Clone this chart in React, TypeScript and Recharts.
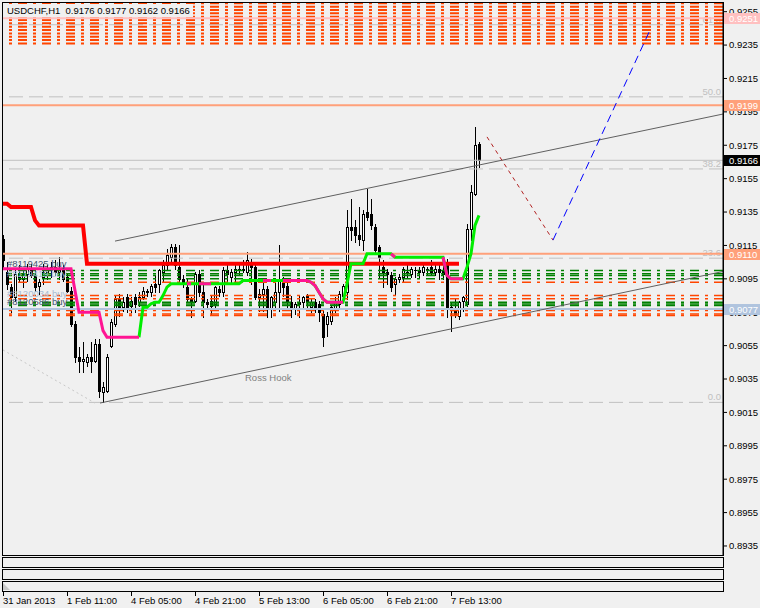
import React from "react";
import { Bar, ComposedChart, Line, ReferenceLine, XAxis, YAxis } from "recharts";

const FONT = "'Liberation Sans', Arial, sans-serif";
const BG = "#F0F0F0";

// USDCHF H1, bar 0 = 31 Jan 2013 (one bar per hour)
const opens = [
  0.9119, 0.9099, 0.909, 0.9084, 0.9098, 0.9095, 0.9098, 0.9101, 0.9097, 0.9091,
  0.9096, 0.9099, 0.91, 0.9102, 0.9099, 0.91, 0.9096, 0.9088, 0.9068, 0.9048,
  0.9046, 0.9045, 0.9048, 0.9046, 0.9056, 0.9027, 0.9028, 0.9055, 0.9068, 0.9083,
  0.9078, 0.9084, 0.9079, 0.9084, 0.9081, 0.9084, 0.9088, 0.9087, 0.9092, 0.9092,
  0.9099, 0.9103, 0.9108, 0.9114, 0.9102, 0.9095, 0.909, 0.9083, 0.9082, 0.9098,
  0.9087, 0.9081, 0.9082, 0.908, 0.9089, 0.9087, 0.91, 0.9096, 0.9099, 0.9101,
  0.91, 0.9099, 0.9105, 0.9102, 0.9084, 0.9086, 0.9089, 0.9077, 0.9081, 0.9087,
  0.9094, 0.9091, 0.9081, 0.9077, 0.9081, 0.9081, 0.9085, 0.9078, 0.9081, 0.908,
  0.9074, 0.9068, 0.907, 0.9077, 0.908, 0.9085, 0.9087, 0.9126, 0.9126, 0.9121,
  0.9118, 0.9135, 0.9134, 0.9126, 0.9114, 0.9102, 0.9099, 0.9097, 0.9092, 0.9095,
  0.9096, 0.9099, 0.9098, 0.91, 0.91, 0.9099, 0.9101, 0.9102, 0.9099, 0.9101,
  0.91, 0.9103, 0.9077, 0.9077, 0.9073, 0.9082, 0.908, 0.9125, 0.9146, 0.9176,
];
const highs = [
  0.9121, 0.9105, 0.9092, 0.9101, 0.9103, 0.91, 0.9104, 0.9104, 0.9101, 0.9095,
  0.9104, 0.9103, 0.9105, 0.9106, 0.9108, 0.9103, 0.9098, 0.909, 0.907, 0.9054,
  0.9057, 0.905, 0.9057, 0.9059, 0.9059, 0.9033, 0.905, 0.9071, 0.9085, 0.9086,
  0.9084, 0.9086, 0.9084, 0.9086, 0.9087, 0.909, 0.9089, 0.9092, 0.9097, 0.9101,
  0.9106, 0.9113, 0.9116, 0.9116, 0.9115, 0.9097, 0.9095, 0.9084, 0.9099, 0.91,
  0.9092, 0.9083, 0.9085, 0.9091, 0.9091, 0.9102, 0.9104, 0.9101, 0.9104, 0.9104,
  0.9106, 0.9111, 0.9107, 0.9105, 0.9089, 0.9094, 0.9091, 0.9085, 0.9094, 0.9115,
  0.9096, 0.9094, 0.9085, 0.9081, 0.9085, 0.9085, 0.9086, 0.9083, 0.9083, 0.9082,
  0.9076, 0.9075, 0.9079, 0.9084, 0.9088, 0.9092, 0.9136, 0.9143, 0.913, 0.9138,
  0.9136, 0.9149, 0.9143, 0.9128, 0.9115, 0.9106, 0.9101, 0.9099, 0.9096, 0.9098,
  0.9102, 0.9104, 0.9102, 0.9102, 0.9102, 0.9104, 0.9102, 0.9106, 0.9105, 0.9103,
  0.9107, 0.9107, 0.9081, 0.9083, 0.9082, 0.9085, 0.9128, 0.9151, 0.9186, 0.9177,
];
const lows = [
  0.9101, 0.9089, 0.9075, 0.9082, 0.9093, 0.909, 0.9094, 0.9096, 0.9088, 0.9086,
  0.9092, 0.9095, 0.9096, 0.9097, 0.9095, 0.9094, 0.9087, 0.9067, 0.9045, 0.9039,
  0.9039, 0.9043, 0.9039, 0.9045, 0.9024, 0.9021, 0.9027, 0.9054, 0.9067, 0.9073,
  0.9076, 0.9075, 0.9075, 0.9075, 0.9079, 0.9083, 0.9085, 0.9085, 0.9087, 0.9087,
  0.9093, 0.9101, 0.9105, 0.9101, 0.9092, 0.909, 0.9081, 0.9072, 0.9081, 0.9085,
  0.9072, 0.9077, 0.9074, 0.9078, 0.9085, 0.9085, 0.9094, 0.9093, 0.9094, 0.9098,
  0.9099, 0.9097, 0.9092, 0.9083, 0.9076, 0.9076, 0.9072, 0.9072, 0.9077, 0.9076,
  0.9085, 0.9077, 0.9072, 0.9074, 0.9072, 0.9077, 0.9077, 0.9075, 0.9075, 0.907,
  0.9055, 0.9061, 0.9068, 0.9075, 0.9078, 0.9083, 0.9083, 0.9118, 0.9117, 0.9115,
  0.9112, 0.913, 0.9125, 0.911, 0.9096, 0.909, 0.9092, 0.9088, 0.9086, 0.9093,
  0.9094, 0.9096, 0.9096, 0.9096, 0.9096, 0.9097, 0.9098, 0.9098, 0.9097, 0.9095,
  0.9095, 0.9072, 0.9064, 0.9072, 0.9071, 0.9076, 0.9079, 0.9118, 0.9145, 0.9162,
];
const closes = [
  0.9106, 0.9092, 0.9084, 0.9098, 0.9095, 0.9098, 0.9101, 0.9097, 0.909, 0.9093,
  0.9099, 0.91, 0.9102, 0.9099, 0.9101, 0.9095, 0.9088, 0.9068, 0.9048, 0.9046,
  0.9047, 0.9048, 0.9046, 0.9056, 0.9028, 0.903, 0.9048, 0.9069, 0.9083, 0.9078,
  0.9081, 0.9078, 0.9082, 0.908, 0.9084, 0.9088, 0.9087, 0.9091, 0.909, 0.91,
  0.9103, 0.9109, 0.9114, 0.9103, 0.9095, 0.9093, 0.9083, 0.9082, 0.9098, 0.9087,
  0.9081, 0.908, 0.9079, 0.909, 0.9087, 0.91, 0.9098, 0.9099, 0.9101, 0.91,
  0.9101, 0.9106, 0.9102, 0.9084, 0.9086, 0.9089, 0.9077, 0.9084, 0.9087, 0.9094,
  0.909, 0.9082, 0.9077, 0.908, 0.908, 0.9084, 0.9082, 0.9081, 0.9078, 0.9075,
  0.906, 0.9073, 0.9078, 0.9082, 0.9086, 0.9091, 0.9126, 0.9124, 0.9121, 0.9119,
  0.9134, 0.9132, 0.9127, 0.9112, 0.9108, 0.9099, 0.9098, 0.909, 0.9095, 0.9096,
  0.9101, 0.9099, 0.9101, 0.91, 0.9099, 0.9102, 0.9101, 0.9099, 0.9101, 0.9099,
  0.9098, 0.9077, 0.9078, 0.9074, 0.9081, 0.9084, 0.9125, 0.9147, 0.9175, 0.9166,
];

// red stop line (bars 0..114)
const redStop = [
  0.914, 0.914, 0.9138, 0.9138, 0.9138, 0.9138, 0.9138, 0.9138, 0.913, 0.9127,
  0.9127, 0.9127, 0.9127, 0.9127, 0.9127, 0.9127, 0.9127, 0.9127, 0.9127, 0.9127,
  0.9127, 0.9104, 0.9104, 0.9104, 0.9104, 0.9104, 0.9104, 0.9104, 0.9104, 0.9104,
  0.9104, 0.9104, 0.9104, 0.9104, 0.9104, 0.9104, 0.9104, 0.9104, 0.9104, 0.9104,
  0.9104, 0.9104, 0.9104, 0.9104, 0.9104, 0.9104, 0.9104, 0.9104, 0.9104, 0.9104,
  0.9104, 0.9104, 0.9104, 0.9104, 0.9104, 0.9104, 0.9104, 0.9104, 0.9104, 0.9104,
  0.9104, 0.9104, 0.9104, 0.9104, 0.9104, 0.9104, 0.9104, 0.9104, 0.9104, 0.9104,
  0.9104, 0.9104, 0.9104, 0.9104, 0.9104, 0.9104, 0.9104, 0.9104, 0.9104, 0.9104,
  0.9104, 0.9104, 0.9104, 0.9104, 0.9104, 0.9104, 0.9104, 0.9104, 0.9104, 0.9104,
  0.9104, 0.9104, 0.9104, 0.9104, 0.9104, 0.9104, 0.9104, 0.9104, 0.9104, 0.9104,
  0.9104, 0.9104, 0.9104, 0.9104, 0.9104, 0.9104, 0.9104, 0.9104, 0.9104, 0.9104,
  0.9104, 0.9104, 0.9104, 0.9104, 0.9104,
];

// trailing trend line, pink while down, green while up
const trendVals = [
  0.9101, 0.9101, 0.9101, 0.9101, 0.9101, 0.9101, 0.9101, 0.9101, 0.9101, 0.9101,
  0.9101, 0.9101, 0.9101, 0.9101, 0.9101, 0.9101, 0.9101, 0.9101, 0.9088, 0.9075,
  0.9075, 0.9075, 0.9075, 0.9075, 0.9075, 0.9064, 0.906, 0.906, 0.906, 0.906,
  0.906, 0.906, 0.906, 0.906, 0.906, 0.9078, 0.9078, 0.908, 0.9081, 0.9081,
  0.9085, 0.909, 0.9092, 0.9092, 0.9092, 0.9092, 0.9092, 0.9092, 0.9092, 0.9092,
  0.9092, 0.9092, 0.9092, 0.9092, 0.9092, 0.9092, 0.9092, 0.9092, 0.9092, 0.9092,
  0.9094, 0.9094, 0.9094, 0.9094, 0.9094, 0.9094, 0.9094, 0.9094, 0.9094, 0.9094,
  0.9094, 0.9094, 0.9094, 0.9094, 0.9094, 0.9094, 0.9094, 0.9093, 0.9091, 0.9087,
  0.9083, 0.9081, 0.9081, 0.9081, 0.9081, 0.9081, 0.9092, 0.9104, 0.9104, 0.9104,
  0.9104, 0.911, 0.911, 0.911, 0.911, 0.911, 0.911, 0.911, 0.9108, 0.9108,
  0.9108, 0.9108, 0.9108, 0.9108, 0.9108, 0.9108, 0.9108, 0.9108, 0.9108, 0.9108,
  0.9108, 0.9097, 0.9095, 0.9095, 0.9095, 0.9095, 0.9102, 0.911, 0.9127, 0.9133,
];
const pinkRanges = [[0, 34], [46, 47], [49, 52], [65, 67], [70, 85], [97, 98], [110, 115]];
const greenFrom = 34;

// pending order levels
const topOrangeLevels = [0.9236, 0.9238, 0.924, 0.9242, 0.9244, 0.9246, 0.9248, 0.925, 0.9252, 0.9254, 0.9256, 0.9258, 0.926];
const midGreenLevels = [0.91, 0.9098, 0.9097, 0.9095, 0.9081, 0.908, 0.9079];
const midOrangeLevels = [0.9093, 0.9085, 0.9083, 0.9076, 0.9074, 0.9073];

// fibonacci retracement anchors
const fibLow = 0.9021;
const fibHigh = 0.9387;
const fibRatios = [61.8, 50.0, 38.2, 23.6, 0.0];

// price tags on the right scale
const tagPrices = [0.9251, 0.9199, 0.911, 0.9077, 0.9166];

const orderTexts = ["#8119425 buy", "#8119419 buy", "#8120034 buy", "#8120586 buy"];
const orderTextPrices = [0.91042, 0.90982, 0.90868, 0.90817];

const timeTicks = [0, 16, 32, 48, 64, 80, 96, 112];
const timeLabels = ["31 Jan 2013", "1 Feb 11:00", "4 Feb 05:00", "4 Feb 21:00", "5 Feb 13:00", "6 Feb 05:00", "6 Feb 21:00", "7 Feb 13:00"];
const priceTicks = [0.9255, 0.9235, 0.9215, 0.9195, 0.9175, 0.9155, 0.9135, 0.9115, 0.9095, 0.9075, 0.9055, 0.9035, 0.9015, 0.8995, 0.8975, 0.8955, 0.8935];

const Y_DOMAIN = [0.89296, 0.92602];
const MARGIN = { top: 3, right: 0, bottom: 0, left: 3 };

const rows = opens.map((o, i) => ({
  i,
  o,
  h: highs[i],
  l: lows[i],
  c: closes[i],
  range: [lows[i], highs[i]],
  red: i < redStop.length ? redStop[i] : null,
  green: i >= greenFrom ? trendVals[i] : null,
  pink: pinkRanges.some(([a, b]) => i >= a && i <= b) ? trendVals[i] : null,
}));

function Candle(props: any) {
  const { x, y, width, height, payload } = props;
  if (!payload || width == null) return null;
  const { o, h, l, c } = payload;
  const top = Math.min(y, y + height);
  const span = Math.abs(height);
  const k = h > l ? span / (h - l) : 0;
  const py = (p: number) => top + (h - p) * k;
  const cx = Math.round(x + width / 2);
  const bTop = Math.round(py(Math.max(o, c)));
  const bBot = Math.round(py(Math.min(o, c)));
  return (
    <g>
      <line x1={cx + 0.5} x2={cx + 0.5} y1={Math.round(top)} y2={Math.round(top + span) + 1} stroke="#000" strokeWidth={1} />
      {bBot - bTop < 1 ? (
        <line x1={cx - 1} x2={cx + 2} y1={bTop + 0.5} y2={bTop + 0.5} stroke="#000" strokeWidth={1} />
      ) : (
        <rect x={cx - 0.5} y={bTop + 0.5} width={2} height={bBot - bTop} fill={c >= o ? "#fff" : "#000"} stroke="#000" strokeWidth={1} />
      )}
    </g>
  );
}

function TimeTick(props: any) {
  const { x, payload } = props;
  const label = timeLabels[timeTicks.indexOf(payload.value)];
  const px = Math.round(x);
  return (
    <g>
      <line x1={px + 0.5} x2={px + 0.5} y1={592} y2={596} stroke="#000" />
      <text x={px} y={604} fontSize={9.5} fontFamily={FONT} fill="#000">
        {label}
      </text>
    </g>
  );
}

const priceTag = (value: string, bg: string) => (p: any) => {
  const vb = p.viewBox;
  const x = vb.x + vb.width + 1;
  const y = Math.round(vb.y);
  return (
    <g>
      <rect x={x} y={y - 5} width={36} height={11} fill={bg} />
      <text x={x + 5} y={y + 4} fontSize={9.5} fontFamily={FONT} fill="#fff">
        {value}
      </text>
    </g>
  );
};

const fibTag = (value: string) => (p: any) => {
  const vb = p.viewBox;
  return (
    <text x={vb.x + vb.width - 2} y={vb.y - 2} textAnchor="end" fontSize={9.5} fontFamily={FONT} fill="#C0C0C0">
      {value}
    </text>
  );
};

const leftText = (value: string, color: string) => (p: any) => {
  const vb = p.viewBox;
  return (
    <text x={vb.x} y={vb.y + 4} fontSize={9.5} fontFamily={FONT} fill={color}>
      {value}
    </text>
  );
};

const DASHDOT = "9 6 3 6";
const tagColors = ["#FFC0C0", "#FFA07A", "#FFA07A", "#B0C4DE", "#000000"];

export default function App() {
  return (
    <div style={{ position: "relative", width: 760, height: 608, background: BG, fontFamily: FONT }}>
      <style>{"body{margin:0;background:#F0F0F0}"}</style>
      <ComposedChart width={760} height={608} data={rows} margin={MARGIN}>
        <XAxis
          dataKey="i"
          type="number"
          domain={[0, 180]}
          allowDataOverflow
          ticks={timeTicks}
          interval={0}
          height={53}
          axisLine={false}
          tickLine={false}
          tick={<TimeTick />}
        />
        <YAxis
          orientation="right"
          type="number"
          domain={Y_DOMAIN}
          allowDataOverflow
          ticks={priceTicks}
          interval={0}
          width={37}
          tickSize={4}
          tickMargin={2}
          axisLine={{ stroke: "#000" }}
          tickLine={{ stroke: "#000" }}
          tick={{ fontSize: 9.5, fill: "#000", fontFamily: FONT }}
          tickFormatter={(v: number) => v.toFixed(4)}
        />

        {fibRatios.map((r) => (
          <ReferenceLine
            key={"fib" + r}
            y={fibLow + ((fibHigh - fibLow) * r) / 100}
            stroke="#C0C0C0"
            strokeDasharray="14 6"
            label={fibTag(r.toFixed(1))}
          />
        ))}

        <ReferenceLine y={0.9166} stroke="#C0C0C0" />

        {topOrangeLevels.map((p) => (
          <ReferenceLine key={"to" + p} y={p} stroke="#FF4500" strokeWidth={2} strokeDasharray={DASHDOT} />
        ))}
        {midGreenLevels.map((p) => (
          <ReferenceLine key={"mg" + p} y={p} stroke="#008000" strokeWidth={1.5} strokeDasharray={DASHDOT} />
        ))}
        {midOrangeLevels.map((p) => (
          <ReferenceLine key={"mo" + p} y={p} stroke="#FF4500" strokeWidth={1.5} strokeDasharray={DASHDOT} />
        ))}

        {tagPrices.slice(0, 4).map((p, k) => (
          <ReferenceLine key={"tl" + p} y={p} stroke={tagColors[k]} strokeWidth={2} />
        ))}

        <ReferenceLine segment={[{ x: 0, y: 0.90524 }, { x: 23, y: 0.90206 }]} stroke="#C8C8C8" strokeDasharray="2 3" />
        <ReferenceLine segment={[{ x: 24.25, y: 0.90206 }, { x: 180, y: 0.90994 }]} stroke="#606060" />
        <ReferenceLine segment={[{ x: 28, y: 0.91176 }, { x: 180, y: 0.91937 }]} stroke="#606060" />

        <ReferenceLine segment={[{ x: 121, y: 0.918 }, { x: 137.5, y: 0.91182 }]} stroke="#B22222" strokeDasharray="4 4" />
        <ReferenceLine segment={[{ x: 137.5, y: 0.91182 }, { x: 161.75, y: 0.9244 }]} stroke="#0000FF" strokeDasharray="8 5" />

        <Bar dataKey="range" barSize={3} shape={<Candle />} isAnimationActive={false} />
        <Line dataKey="red" stroke="#FF0000" strokeWidth={4} dot={false} isAnimationActive={false} connectNulls={false} />
        <Line dataKey="green" stroke="#00EE00" strokeWidth={3} dot={false} isAnimationActive={false} connectNulls={false} />
        <Line dataKey="pink" stroke="#FF1493" strokeWidth={3} dot={false} isAnimationActive={false} connectNulls={false} />
      </ComposedChart>

      {/* texts and price tags sit above everything else, so they go in a layer on top */}
      <div style={{ position: "absolute", left: 0, top: 0, pointerEvents: "none" }}>
        <ComposedChart width={760} height={608} data={rows} margin={MARGIN}>
          <XAxis dataKey="i" type="number" domain={[0, 180]} allowDataOverflow height={53} tick={false} axisLine={false} tickLine={false} />
          <YAxis orientation="right" type="number" domain={Y_DOMAIN} allowDataOverflow width={37} tick={false} axisLine={false} tickLine={false} />
          {orderTexts.map((t, k) => (
            <ReferenceLine
              key={t}
              segment={[{ x: 1, y: orderTextPrices[k] }, { x: 2, y: orderTextPrices[k] }]}
              stroke="none"
              label={leftText(t, k % 3 === 0 ? "#46556E" : "#A8BCD2")}
            />
          ))}
          <ReferenceLine
            segment={[{ x: 60.5, y: 0.90362 }, { x: 61, y: 0.90362 }]}
            stroke="none"
            label={leftText("Ross Hook", "#808080")}
          />
          {tagPrices.map((p, k) => (
            <ReferenceLine
              key={"tag" + p}
              y={p}
              stroke="none"
              label={priceTag(p.toFixed(4), tagColors[k])}
            />
          ))}
        </ComposedChart>
      </div>

      <div
        style={{
          position: "absolute",
          left: 4,
          top: 4,
          padding: "1px 3px",
          background: BG,
          fontSize: 9.5,
          lineHeight: "11px",
          whiteSpace: "pre",
          color: "#000",
        }}
      >
        {"USDCHF,H1  0.9176 0.9177 0.9162 0.9166"}
      </div>
      <div style={{ position: "absolute", left: 2, top: 2, width: 722, height: 554, border: "1px solid #000", boxSizing: "border-box", pointerEvents: "none" }} />
      {[557, 569, 581].map((t) => (
        <div key={t} style={{ position: "absolute", left: 2, top: t, width: 722, height: 11, border: "1px solid #000", boxSizing: "border-box" }} />
      ))}
      <div style={{ position: "absolute", left: 3, top: 583, width: 0, height: 0, borderBottom: "7px solid #C8C8C8", borderRight: "7px solid transparent" }} />
    </div>
  );
}
